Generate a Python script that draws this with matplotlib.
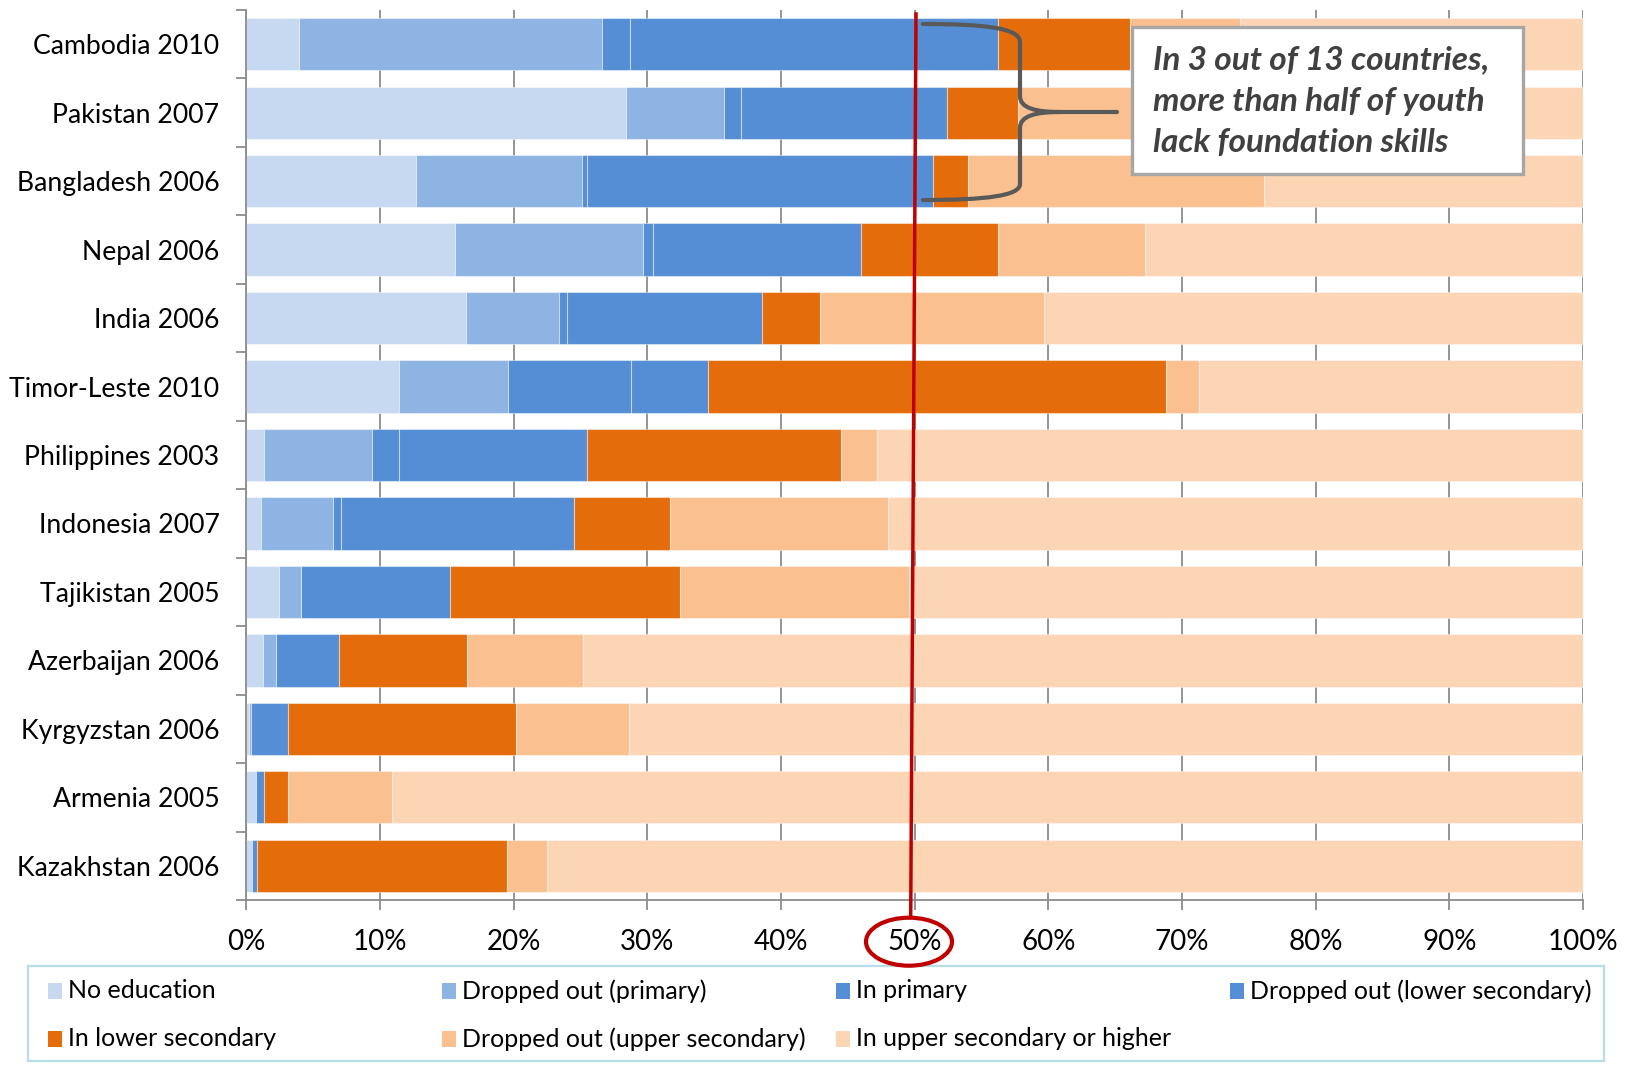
import matplotlib
matplotlib.use("Agg")
import matplotlib.pyplot as plt
import matplotlib.patches as mpatches
from matplotlib.path import Path
from matplotlib.ticker import PercentFormatter, FixedLocator
import numpy as np

plt.rcParams['font.family'] = ['Lato', 'DejaVu Sans']

# Share of youth by education status (%)
countries = ["Cambodia 2010", "Pakistan 2007", "Bangladesh 2006", "Nepal 2006",
             "India 2006", "Timor-Leste 2010", "Philippines 2003", "Indonesia 2007",
             "Tajikistan 2005", "Azerbaijan 2006", "Kyrgyzstan 2006", "Armenia 2005",
             "Kazakhstan 2006"]
no_education = [3.9, 28.4, 12.7, 15.6, 16.4, 11.4, 1.3, 1.1, 2.4, 1.2, 0.2, 0.7, 0.4]
dropped_primary = [22.7, 7.3, 12.4, 14.1, 7.0, 8.2, 8.1, 5.4, 1.7, 1.0, 0.1, 0.0, 0.0]
in_primary = [2.1, 1.3, 0.4, 0.7, 0.6, 9.2, 2.0, 0.6, 0.0, 0.0, 0.0, 0.0, 0.0]
dropped_lower_sec = [27.5, 15.4, 25.9, 15.6, 14.6, 5.7, 14.1, 17.4, 11.1, 4.7, 2.8, 0.6, 0.4]
in_lower_sec = [9.9, 5.3, 2.6, 10.2, 4.3, 34.3, 19.0, 7.2, 17.2, 9.6, 17.1, 1.8, 18.7]
dropped_upper_sec = [8.2, 11.3, 22.1, 11.0, 16.8, 2.5, 2.7, 16.3, 17.2, 8.7, 8.4, 7.8, 3.0]
upper_sec_or_higher = [25.7, 31.0, 23.9, 32.8, 40.3, 28.7, 52.8, 52.0, 50.4, 74.8, 71.4, 89.1, 77.5]

series = [no_education, dropped_primary, in_primary, dropped_lower_sec,
          in_lower_sec, dropped_upper_sec, upper_sec_or_higher]
labels = ["No education", "Dropped out (primary)", "In primary",
          "Dropped out (lower secondary)", "In lower secondary",
          "Dropped out (upper secondary)", "In upper secondary or higher"]
colors = ["#C6D9F1", "#8EB4E3", "#558ED5", "#558ED5",
          "#E46C0A", "#FAC090", "#FCD5B5"]

W, H = 1632, 1067
fig = plt.figure(figsize=(W / 100, H / 100), dpi=100)
ax = fig.add_axes([246.5 / W, 1 - 900 / H, (1583 - 246.5) / W, 890 / H])


def px(x, y):
    # pixel position (from top-left) -> figure fraction
    return x / W, 1 - y / H


grey = "#8C8C8C"
ypos = np.arange(len(countries))
left = np.zeros(len(countries))
for vals, col in zip(series, colors):
    ax.barh(ypos, vals, left=left, height=0.765, color=col,
            edgecolor=(1, 1, 1, 0.45), linewidth=0.8)
    left += np.array(vals)

ax.set_xlim(0, 100)
ax.set_ylim(len(countries) - 0.5, -0.5)
ax.set_xticks(np.arange(0, 101, 10))
ax.xaxis.set_major_formatter(PercentFormatter(decimals=0))
ax.set_axisbelow(True)
ax.grid(axis='x', color=grey, linewidth=1.3)
ax.tick_params(axis='x', length=7, width=1.3, color=grey, labelsize=20, pad=14,
               labelcolor='black')

ax.set_yticks(ypos, labels=countries)
ax.yaxis.set_minor_locator(FixedLocator(np.arange(-0.5, len(countries), 1)))
ax.tick_params(axis='y', which='major', length=0, labelsize=19.2, pad=19.5,
               labelcolor='black')
ax.tick_params(axis='y', which='minor', length=7, width=1.3, color=grey)

for s in ['top', 'right']:
    ax.spines[s].set_visible(False)
for s in ['left', 'bottom']:
    ax.spines[s].set_color(grey)
    ax.spines[s].set_linewidth(1.3)

# 50% marker line and circled tick label
red = "#C00000"
x0, y0 = px(916, 14)
x1, y1 = px(910.7, 917)
fig.add_artist(plt.Line2D([x0, x1], [y0, y1], transform=fig.transFigure,
                          color=red, linewidth=2.5, zorder=5))
ec_x, ec_y = px(909, 941.7)
fig.add_artist(mpatches.Ellipse((ec_x, ec_y), 86 / W, 48 / H,
                                transform=fig.transFigure, fill=False,
                                edgecolor=red, linewidth=3, zorder=5))

# curly brace spanning the first three countries
pts = [(923, 24), (985, 24), (1020, 28), (1020, 42),
       (1020, 96),
       (1020, 108), (1035, 112), (1060, 112),
       (1117, 112),
       (1060, 112),
       (1035, 112), (1020, 116), (1020, 128),
       (1020, 184),
       (1020, 196), (985, 200), (923, 200)]
codes = [Path.MOVETO, Path.CURVE4, Path.CURVE4, Path.CURVE4,
         Path.LINETO,
         Path.CURVE4, Path.CURVE4, Path.CURVE4,
         Path.LINETO,
         Path.MOVETO,
         Path.CURVE4, Path.CURVE4, Path.CURVE4,
         Path.LINETO,
         Path.CURVE4, Path.CURVE4, Path.CURVE4]
brace = Path([px(*p) for p in pts], codes)
fig.add_artist(mpatches.PathPatch(brace, transform=fig.transFigure, fill=False,
                                  edgecolor="#595959", linewidth=3,
                                  capstyle='round', zorder=6))

# callout box
bx0, by0 = px(1132, 174)
fig.add_artist(mpatches.Rectangle((bx0, by0), (1522.7 - 1132) / W, (174 - 26.7) / H,
                                  transform=fig.transFigure, facecolor='white',
                                  edgecolor="#A6A6A6", linewidth=2.4, zorder=6))
tx, ty = px(1153, 101)
fig.text(tx, ty, "In 3 out of 13 countries,\nmore than half of youth\nlack foundation skills",
         fontsize=24, fontweight='bold', fontstyle='italic', color="#404040",
         ha='left', va='center', linespacing=1.52, zorder=7)

# legend
lx0, ly0 = px(28, 1061)
fig.add_artist(mpatches.Rectangle((lx0, ly0), (1604 - 28) / W, (1061 - 966) / H,
                                  transform=fig.transFigure, fill=False,
                                  edgecolor="#B7DEE8", linewidth=1.6))
col_x = [48, 442, 836, 1230]
row_y = [991, 1039]
for i, (lab, col) in enumerate(zip(labels, colors)):
    r, c = divmod(i, 4)
    mx, my = px(col_x[c], row_y[r] + 8)
    fig.add_artist(mpatches.Rectangle((mx, my), 14 / W, 16 / H,
                                      transform=fig.transFigure,
                                      facecolor=col, edgecolor='none'))
    lx, ly = px(col_x[c] + 20, row_y[r])
    fig.text(lx, ly, lab, fontsize=18, ha='left', va='center', color='black')

fig.savefig("out.png", dpi=100)
